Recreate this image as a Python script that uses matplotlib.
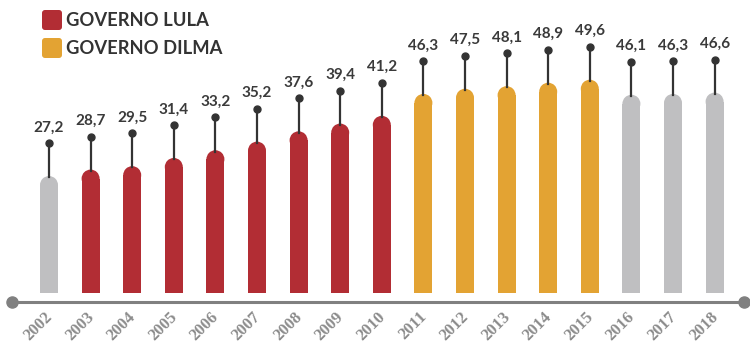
import matplotlib.pyplot as plt
from matplotlib.patches import Ellipse, FancyBboxPatch
from matplotlib.lines import Line2D

# dados
anos = ['2002', '2003', '2004', '2005', '2006', '2007', '2008', '2009', '2010',
        '2011', '2012', '2013', '2014', '2015', '2016', '2017', '2018']
valores = [27.2, 28.7, 29.5, 31.4, 33.2, 35.2, 37.6, 39.4, 41.2,
           46.3, 47.5, 48.1, 48.9, 49.6, 46.1, 46.3, 46.6]
governo = ['outro', 'lula', 'lula', 'lula', 'lula', 'lula', 'lula', 'lula', 'lula',
           'dilma', 'dilma', 'dilma', 'dilma', 'dilma', 'outro', 'outro', 'outro']
legenda = [('lula', 'GOVERNO LULA'), ('dilma', 'GOVERNO DILMA')]

cores = {'outro': '#BFBFC1', 'lula': '#B22D34', 'dilma': '#E3A333'}
escuro = '#333333'

W, H = 750, 344
PX_X = 41.6   # pixels por barra
PX_Y = 4.3    # pixels por unidade
X0, Y0 = 49, 293  # centro da 1a barra / base

fig = plt.figure(figsize=(W / 100, H / 100), dpi=100)
ax = fig.add_axes([0, 0, 1, 1])
ax.set_xlim(-X0 / PX_X, (W - X0) / PX_X)
ax.set_ylim(-(H - Y0) / PX_Y, Y0 / PX_Y)
ax.axis('off')

larg = 18 / PX_X
ry = 9 / PX_Y
haste = 33 / PX_Y

for i, (ano, v, g) in enumerate(zip(anos, valores, governo)):
    c = cores[g]
    ax.bar(i, v - ry, width=larg, color=c, linewidth=0)
    ax.add_patch(Ellipse((i, v - ry), larg, 2 * ry, color=c, linewidth=0))
    ax.plot([i, i], [v - 0.3, v + haste], color=escuro, lw=1.6, zorder=3)
    ax.plot(i, v + haste, 'o', color=escuro, ms=5, zorder=4)
    ax.text(i, v + haste + 2.0, f'{v:.1f}'.replace('.', ','), ha='center', va='bottom',
            fontsize=11, fontweight='bold', color='#3a3a3a', family='Lato')
    ax.text(i + 0.16, -16 / PX_Y, ano, rotation=45, ha='right', va='top',
            fontsize=12, fontweight='bold', color='#8c8c8c', family='Liberation Serif')

# eixo
ya = -9 / PX_Y
xa0, xa1 = (12 - X0) / PX_X, (744 - X0) / PX_X
ax.add_line(Line2D([xa0, xa1], [ya, ya], color='#808080', lw=2.2))
ax.plot([xa0, xa1], [ya, ya], 'o', color='#808080', ms=8)

# legenda
for k, (g, txt) in enumerate(legenda):
    top = 10 + k * 28
    ax.add_patch(FancyBboxPatch(((42 + 3) / W, 1 - (top + 20 - 3) / H), 14 / W, 14 / H,
                                boxstyle='round,pad=0.004', transform=fig.transFigure,
                                mutation_aspect=W / H, color=cores[g], linewidth=0))
    fig.text(66 / W, 1 - (top + 10) / H, txt, ha='left', va='center', fontsize=13.2,
             fontweight='bold', color='#333333', family='Lato')

fig.savefig('out.png', dpi=100)
